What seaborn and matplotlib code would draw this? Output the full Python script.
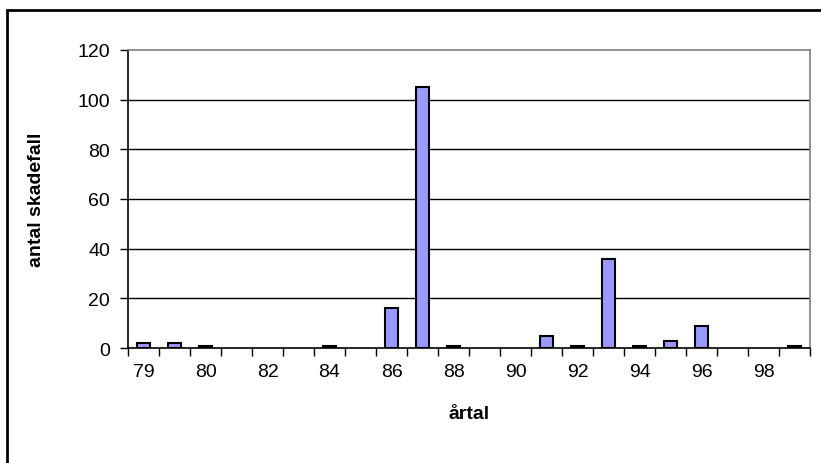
import matplotlib
matplotlib.use("Agg")
import matplotlib.pyplot as plt
from matplotlib.patches import Rectangle
from matplotlib.ticker import FixedLocator, NullFormatter
import seaborn as sns
import pandas as pd

# yearly damage counts
years = ["79", "79/80", "80", "81", "82", "83", "84", "85", "86", "87", "88",
         "89", "90", "91", "92", "93", "94", "95", "96", "97", "98", "99"]
counts = [2, 2, 1, 0, 0, 0, 1, 0, 16, 105, 1, 0, 0, 5, 1, 36, 1, 3, 9, 0, 0, 1]
shown_labels = ["79", "80", "82", "84", "86", "88", "90", "92", "94", "96", "98"]
y_ticks = [0, 20, 40, 60, 80, 100, 120]

sns.set_theme(style="white")
plt.rcParams["font.family"] = ["Liberation Sans", "DejaVu Sans"]

df = pd.DataFrame({"year": years, "count": counts})

fig = plt.figure(figsize=(8.21, 4.64), dpi=100)
fig.patch.set_facecolor("white")
ax = fig.add_axes([128 / 821, 1 - 349 / 464, (810 - 128) / 821, (349 - 51) / 464])

sns.barplot(data=df, x="year", y="count", order=years, color="#9999ff",
            saturation=1, width=0.42, edgecolor="black", linewidth=1.5, ax=ax)

# years without any cases get no bar outline
for patch in ax.patches:
    if patch.get_height() == 0:
        patch.set_visible(False)

ax.set_xlim(-0.5, len(years) - 0.5)
ax.set_ylim(0, 120)

# horizontal gridlines
ax.set_yticks(y_ticks)
ax.set_yticklabels([str(v) for v in y_ticks])
for v in y_ticks[1:-1]:
    ax.axhline(v, color="black", linewidth=1.0, zorder=0)

# x tick marks at category boundaries, labels on every second category
ax.xaxis.set_major_locator(FixedLocator([i - 0.5 for i in range(len(years) + 1)]))
ax.xaxis.set_major_formatter(NullFormatter())
ax.xaxis.set_minor_locator(FixedLocator(list(range(0, len(years), 2))))
ax.set_xticklabels(shown_labels, minor=True)
ax.tick_params(axis="x", which="major", direction="out", length=6, width=1,
               color="black", bottom=True)
ax.tick_params(axis="x", which="minor", length=0, labelsize=14, pad=11,
               labelcolor="black", bottom=True)
ax.tick_params(axis="y", direction="out", length=6, width=1, color="black",
               labelsize=14, pad=7, left=True, labelcolor="black")

for side in ["left", "bottom"]:
    ax.spines[side].set_color("black")
    ax.spines[side].set_linewidth(1.2)
for side in ["top", "right"]:
    ax.spines[side].set_color("#808080")
    ax.spines[side].set_linewidth(1.2)
    ax.spines[side].set_visible(True)

ax.set_xlabel("årtal", fontsize=14, fontweight="bold", color="black", labelpad=18)
ax.set_ylabel("antal skadefall", fontsize=14, fontweight="bold", color="black",
              labelpad=23)

# outer chart frame
fig.patches.append(Rectangle((7 / 821, -0.05), 1.0, 1 - 11 / 464 + 0.05,
                             transform=fig.transFigure, fill=False,
                             edgecolor="black", linewidth=2, zorder=10))

fig.savefig("out.png", dpi=100, facecolor="white")
